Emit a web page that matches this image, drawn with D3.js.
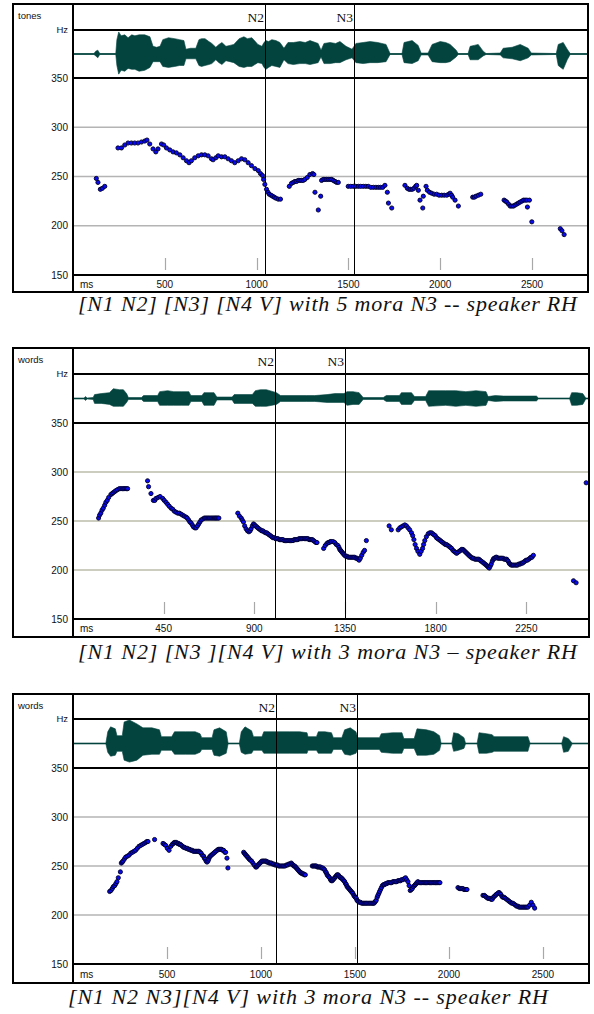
<!DOCTYPE html>
<html><head><meta charset="utf-8">
<script src="https://cdn.jsdelivr.net/npm/d3@7"></script>
<style>
html,body{margin:0;padding:0;background:#fff;}
svg{display:block;}
</style>
</head><body>
<svg id="chart" width="594" height="1014"></svg>
<script>
// ---------------- DATA ----------------
const yTicks = [350, 300, 250, 200, 150];
const gridHz = [300, 250, 200];
const boundaryLabels = ["N2", "N3"];
const tierLabels = ["tones", "words", "words"];
const captions = [
  "[N1 N2] [N3] [N4 V] with 5 mora N3 -- speaker RH",
  "[N1 N2] [N3 ][N4 V] with 3 mora N3 \u2013 speaker RH",
  "[N1 N2 N3][N4 V] with 3 mora N3 -- speaker RH"
];
const ticks1 = [500, 1000, 1500, 2000, 2500];
const ticks2 = [450, 900, 1350, 1800, 2250];
const ticks3 = [500, 1000, 1500, 2000, 2500];
const bounds1 = [1047, 1532];
const bounds2 = [1002, 1350];
const bounds3 = [1080, 1511];
const duration1 = 2805, duration2 = 2561, duration3 = 2745;

// pitch tracks [ms, Hz]
const pitch1 = [
[127,248],[136,244],[149,237],[160,238],[173,240],
[245,279],[264,279],[282,282],[300,284],[318,284],[336,284],[354,284],[373,285],[391,286],[403,287],[418,283],[436,278],[451,275],[463,278],[482,283],[494,282],[509,279],[527,277],[545,275],[563,274],[582,272],[600,269],[618,266],[632,264],[645,266],[663,269],[682,271],[700,272],[718,272],[736,271],[754,268],[763,267],[778,269],[791,271],[809,270],[827,270],[845,268],[863,266],[881,264],[900,266],[918,268],[936,267],[954,264],[972,261],[991,258],[1009,256],[1021,253],[1032,251],[1038,247],[1045,242],[1054,237],[1062,234],[1069,232],[1078,231],[1087,230],[1096,229],[1105,228],[1118,227],[1130,227],
[1178,240],[1190,243],[1200,244],[1209,245],[1218,245],[1227,246],[1236,246],[1245,246],[1254,246],[1263,247],[1276,249],[1290,252],[1305,253],[1312,252],
[1318,234],[1336,216],[1349,230],
[1354,246],[1363,247],[1372,247],[1381,247],[1390,247],[1400,247],[1409,247],[1418,246],[1427,245],[1436,244],[1445,244],
[1499,240],[1513,240],[1527,240],[1540,240],[1554,240],[1567,240],[1581,240],[1595,240],[1608,240],[1622,239],[1636,239],[1650,239],[1663,239],[1675,239],[1687,239],[1699,241],
[1712,234],[1718,223],[1736,218],
[1808,241],[1821,238],[1830,237],[1839,237],[1848,237],[1857,238],[1866,240],[1872,241],[1881,236],
[1890,226],[1905,218],[1908,230],
[1923,240],[1930,236],[1942,234],[1954,233],[1967,232],[1981,232],[1994,231],[2008,231],[2022,231],[2036,231],[2047,232],[2054,233],[2062,231],[2068,229],[2081,226],[2099,220],
[2177,229],[2186,229],[2195,230],[2208,231],[2221,232],
[2348,226],[2356,225],[2363,224],[2372,222],[2381,220],[2390,220],[2399,220],[2408,221],[2417,222],[2426,223],[2435,224],[2445,225],[2454,226],[2463,226],[2472,226],[2486,226],[2475,219],[2499,204],
[2654,197],[2663,195],[2675,191]
];
const pitch2 = [
[127,253],[132,256],[138,258],[144,261],[150,263],[157,266],[163,269],[170,271],[177,274],[188,277],[194,278],[200,279],[207,280],[213,281],[221,282],[230,283],[238,283],[246,283],[252,283],[258,283],[265,283],[271,283],
[370,291],[375,285],[387,278],[399,271],
[406,271],[412,273],[422,274],[432,275],[445,273],[453,271],[462,269],[470,267],[478,265],[487,263],[495,262],[503,260],[511,259],[520,258],[528,258],[536,257],[544,256],[552,255],[561,254],[567,253],[574,251],[580,249],[586,248],[592,246],[598,244],[605,243],[611,243],[618,245],[624,247],[630,249],[636,251],[644,252],[652,253],[659,253],[665,253],[671,253],[677,253],[684,253],[690,253],[696,253],[702,253],[708,253],[713,253],[719,253],[724,253],
[818,258],[826,255],[835,253],[840,251],[846,249],[852,245],[859,242],[866,240],[873,239],[879,240],[884,242],[890,245],[896,247],[901,246],[906,245],[912,244],[917,243],[923,242],[930,241],[936,240],[942,240],[948,239],[955,238],[961,238],[967,237],[973,236],[980,235],[986,234],[992,233],[998,233],[1005,232],[1011,232],[1017,232],[1024,231],[1030,231],[1036,231],[1042,231],[1048,230],[1055,230],[1061,230],[1067,230],[1073,230],[1080,230],[1086,230],[1092,230],[1098,231],[1104,231],[1110,231],[1116,231],[1122,232],[1129,232],[1135,232],[1141,232],[1148,232],[1154,232],[1160,232],[1166,232],[1172,231],[1177,231],[1183,231],[1188,231],[1194,230],[1200,229],[1206,228],[1211,228],
[1244,222],[1252,225],[1260,227],[1266,228],[1271,228],[1277,229],[1282,229],[1291,229],[1299,228],[1307,226],[1315,225],[1320,223],[1324,221],[1328,220],[1332,219],[1336,218],[1340,217],[1344,216],[1348,215],[1354,214],[1360,214],[1366,213],[1373,213],[1379,213],[1385,213],[1391,213],[1398,213],[1404,212],[1410,212],[1415,211],[1420,210],[1426,212],[1433,215],[1440,218],[1447,220],[1456,230],
[1569,245],[1580,241],
[1614,241],[1622,243],[1630,244],[1638,245],[1647,246],[1655,245],[1663,243],[1671,241],[1680,238],[1686,235],[1692,231],[1698,226],[1705,222],[1712,219],[1721,216],[1728,219],[1735,222],[1740,226],[1746,230],[1754,234],[1763,237],[1771,238],[1779,238],[1785,237],[1791,236],[1798,235],[1804,233],[1810,232],[1817,231],[1823,230],[1829,229],[1836,228],[1842,227],[1848,226],[1854,226],[1861,225],[1867,224],[1873,223],[1879,222],[1886,220],[1892,219],[1898,218],[1904,217],[1910,218],[1917,219],[1923,220],[1929,221],[1935,221],[1940,220],[1945,219],[1950,218],[1955,217],[1960,216],[1965,215],[1970,214],[1976,213],[1982,212],[1988,212],[1995,211],[2001,211],[2008,211],[2014,211],[2020,210],[2026,209],[2033,208],[2039,207],[2045,206],[2051,205],[2056,204],[2061,203],[2066,202],[2071,204],[2076,206],[2081,209],[2086,211],[2090,212],[2095,212],[2099,213],[2103,213],[2109,212],[2115,212],[2121,212],[2127,212],[2134,212],[2140,211],[2146,211],[2152,211],[2156,210],[2160,209],[2165,207],[2169,206],[2175,205],[2181,205],[2187,205],[2194,205],[2200,205],[2206,205],[2212,206],[2219,206],[2225,207],[2231,207],[2237,208],[2243,209],[2249,210],[2255,210],[2262,211],[2268,212],[2273,213],[2278,213],[2285,215],
[2484,189],[2497,187],
[2547,289]
];
const pitch3 = [
[195,224],[202,225],[209,227],[215,229],[222,230],[228,232],[234,234],[241,238],[252,244],[257,253],[262,254],[266,255],[273,257],[280,259],[289,260],[298,261],[307,263],[316,264],[325,265],[333,266],[342,268],[351,270],[360,271],[369,272],[378,273],[387,274],[393,275],[399,275],
[434,277],[479,273],[486,272],[493,271],[502,268],[511,266],[520,270],[528,272],[534,273],[539,274],[545,274],[550,274],[556,273],[561,273],[566,272],[571,272],[577,271],[583,270],[589,269],[594,269],[601,268],[608,268],[614,267],[621,267],[627,266],[634,266],[640,265],[647,265],[653,265],[659,265],[665,265],[670,265],[676,264],[682,263],[688,261],[695,260],[699,258],[704,257],[708,255],[713,254],[718,255],[722,257],[726,259],[730,260],[736,261],[742,262],[748,263],[754,264],[760,265],[767,266],[773,267],[780,267],[785,267],[790,267],[796,266],[801,266],[808,264],[812,264],[819,258],[824,248],
[908,264],[912,263],[916,262],[920,261],[925,260],[929,259],[934,258],[938,257],[943,256],[950,255],[957,253],[964,251],[972,249],[976,249],[980,250],[985,251],[989,252],[995,253],[1000,254],[1005,255],[1011,255],[1016,255],[1022,255],[1027,255],[1032,254],[1038,254],[1044,253],[1050,253],[1055,253],[1062,252],[1068,252],[1075,251],[1082,251],[1088,251],[1095,250],[1101,250],[1108,250],[1115,250],[1121,250],[1128,250],[1135,251],[1141,251],[1148,252],[1154,252],[1161,253],[1165,252],[1170,251],[1175,250],[1179,250],[1184,249],[1188,248],[1193,247],[1197,246],[1202,245],[1206,244],[1211,243],[1215,243],[1220,242],[1226,242],[1231,241],[1236,241],
[1273,250],[1278,250],[1284,250],[1289,250],[1294,250],[1300,249],[1305,249],[1311,249],[1316,249],[1322,248],[1328,248],[1334,247],[1339,246],[1344,244],[1348,243],[1352,241],[1356,240],[1361,239],[1365,238],[1370,236],[1374,235],[1379,235],[1383,236],[1388,237],[1392,238],[1397,239],[1401,240],[1405,241],[1410,241],[1414,240],[1418,239],[1423,238],[1427,238],[1432,237],[1436,236],[1441,235],[1445,234],[1450,232],[1454,231],[1458,229],[1463,228],[1467,227],[1472,226],[1476,225],[1480,224],[1485,223],[1489,222],[1494,220],[1498,219],[1502,218],[1507,217],[1511,215],[1516,214],[1522,213],[1529,213],[1536,212],[1543,212],[1549,212],[1556,212],[1562,212],[1569,212],[1576,212],[1583,212],[1590,212],[1596,212],[1601,212],[1605,213],[1609,214],[1613,215],[1618,218],[1622,220],[1627,222],[1631,224],[1636,226],[1641,228],[1646,230],[1652,231],[1657,231],[1663,232],[1669,232],[1675,233],[1681,233],[1688,233],[1695,233],[1702,234],[1708,234],[1715,234],[1722,234],[1729,235],[1735,235],[1742,235],[1748,236],[1755,236],[1762,237],[1769,238],[1775,236],[1782,234],[1788,230],[1794,225],[1800,226],[1805,227],[1811,229],[1817,230],[1821,231],[1826,232],[1830,233],[1835,234],[1841,233],[1848,233],[1855,233],[1862,233],[1868,233],[1875,233],[1881,233],[1888,233],[1895,233],[1901,233],[1908,233],[1915,233],[1921,233],[1928,233],[1935,233],[1941,233],[1947,233],[1952,233],
[2048,228],[2055,227],[2061,227],[2068,227],[2074,227],[2080,226],[2085,226],[2091,226],[2096,226],
[2181,220],[2188,220],[2194,219],[2200,218],[2207,217],[2212,217],[2218,217],[2224,216],[2230,216],[2236,218],[2241,219],[2247,220],[2252,221],[2259,222],[2266,223],[2271,222],[2276,221],[2282,219],[2287,218],[2294,218],[2300,217],[2307,216],[2314,215],[2320,214],[2327,213],[2334,212],[2340,212],[2347,211],[2354,210],[2360,209],[2367,209],[2373,208],[2380,208],[2387,208],[2394,208],[2400,208],[2407,208],[2413,208],[2420,208],[2429,210],[2438,213],[2447,210],[2456,207]
];

// waveform envelope keyframes [ms, amplitude above, amplitude below]
const wave1 = [
[0,0.5,0.5],[114,0.5,0.5],[124,3,2],[135,4,4],[146,0.5,0.5],[233,0.5,0.5],[239,15,12],[249,23,21],[262,19,17],[282,20,18],[300,17,15],[320,20,16],[337,19,16],[360,20,18],[391,20,17],[419,18,14],[436,8,8],[455,7,8],[474,8,8],[489,15,13],[520,17,14],[554,16,13],[580,15,12],[604,14,12],[615,5,5],[640,6,5],[669,6,5],[686,15,12],[700,16,13],[719,16,12],[740,13,11],[756,11,10],[778,7,6],[795,10,9],[811,12,11],[833,8,7],[855,9,8],[876,10,9],[905,16,13],[931,18,14],[950,16,13],[974,17,13],[1007,10,9],[1029,8,10],[1040,12,14],[1051,14,16],[1065,13,14],[1083,15,12],[1105,14,13],[1127,12,14],[1149,6,6],[1171,12,10],[1200,12,11],[1236,13,10],[1265,12,10],[1291,14,11],[1335,11,9],[1351,4,3],[1367,11,10],[1400,12,10],[1430,11,9],[1454,13,9],[1487,8,6],[1520,5,4],[1541,11,9],[1580,12,10],[1618,13,9],[1660,12,9],[1705,10,8],[1727,0.5,0.5],[1792,0.5,0.5],[1803,12,9],[1847,14,10],[1880,9,7],[1896,1,1],[1934,1,1],[1956,10,8],[2000,13,9],[2030,12,9],[2054,10,8],[2087,4,3],[2098,0.5,0.5],[2152,0.5,0.5],[2163,8,6],[2185,9,6],[2207,10,6],[2234,3,2],[2250,0.5,0.5],[2327,1,1],[2343,6,4],[2392,7,5],[2436,10,7],[2479,6,4],[2496,1,1],[2632,0.5,0.5],[2643,10,12],[2656,11,14],[2670,12,16],[2692,5,6],[2708,0.5,0.5],[2805,0.5,0.5]
];
const wave2 = [
[0,0.5,0.5],[55,0.5,0.5],[62,2,2],[70,0.5,0.5],[100,1,1],[107,4,5],[140,5,5],[181,6,6],[200,10,8],[230,9,8],[250,9,8],[266,5,4],[275,1,1],[340,1,1],[350,3,3],[420,3,3],[430,7,7],[470,8,7],[500,7,7],[540,7,7],[575,7,7],[585,3,3],[640,3,3],[650,6,7],[700,6,7],[714,1.5,1.5],[790,1.5,1.5],[800,4,5],[890,4,5],[905,8,8],[930,9,8],[960,9,8],[1010,6,6],[1030,3,3],[1160,3,3],[1200,3,3],[1261,4,4],[1300,5,4],[1345,5,4],[1360,7,7],[1390,7,6],[1420,6,6],[1440,1,1],[1540,1,1],[1555,3,3],[1620,3,3],[1630,6,6],[1680,6,6],[1695,2,2],[1750,2,2],[1765,8,8],[1850,8,7],[1900,8,8],[1950,7,7],[2000,8,8],[2050,7,7],[2060,2,2],[2096,3,3],[2136,2.5,2.5],[2300,2.5,2.5],[2310,0.5,0.5],[2465,0.5,0.5],[2475,6,7],[2500,6,7],[2530,5,6],[2545,0.5,0.5],[2561,0.5,0.5]
];
const wave3 = [
[0,0.5,0.5],[175,0.5,0.5],[185,12,9],[200,17,13],[225,15,12],[234,8,8],[262,8,8],[272,22,17],[300,24,19],[320,22,18],[340,20,17],[372,16,12],[420,16,11],[460,14,11],[470,7,7],[525,7,7],[540,12,11],[600,12,11],[650,12,11],[676,10,9],[685,6,6],[740,6,6],[750,14,12],[780,16,13],[815,12,10],[825,0.5,0.5],[885,0.5,0.5],[895,12,9],[915,17,11],[950,13,10],[960,7,7],[1005,7,7],[1015,12,10],[1080,12,10],[1150,12,10],[1207,12,10],[1245,11,10],[1250,7,7],[1295,7,7],[1305,12,10],[1340,12,10],[1375,11,10],[1385,6,6],[1430,6,6],[1445,14,11],[1475,16,12],[1505,12,10],[1515,6,6],[1630,6,6],[1640,10,9],[1700,11,10],[1750,11,10],[1760,5,5],[1815,5,5],[1830,15,12],[1880,14,12],[1920,12,11],[1950,8,7],[1958,0.5,0.5],[2015,0.5,0.5],[2025,11,8],[2050,10,7],[2080,6,5],[2088,0.5,0.5],[2150,0.5,0.5],[2160,11,10],[2200,10,10],[2230,9,9],[2240,7,8],[2330,7,8],[2420,7,8],[2431,0.5,0.5],[2600,0.5,0.5],[2610,7,9],[2635,5,8],[2655,0.5,0.5],[2745,0.5,0.5]
];

// ---------------- LAYOUT ----------------
const panels = [
  {top:4,   rowBot:30,  waveBot:78,  pitchBot:275, axisBot:292, right:588, dur:duration1, ticks:ticks1, bounds:bounds1, pitch:pitch1, wave:wave1, tier:tierLabels[0], caption:captions[0], capX:78, capY:311, capLen:499, grid:"#b4b4b4"},
  {top:348, rowBot:374, waveBot:423, pitchBot:619, axisBot:637, right:589, dur:duration2, ticks:ticks2, bounds:bounds2, pitch:pitch2, wave:wave2, tier:tierLabels[1], caption:captions[1], capX:78, capY:659, capLen:499, grid:"#bcbcaa"},
  {top:694, rowBot:719, waveBot:768, pitchBot:964, axisBot:983, right:589, dur:duration3, ticks:ticks3, bounds:bounds3, pitch:pitch3, wave:wave3, tier:tierLabels[2], caption:captions[2], capX:68, capY:1004, capLen:480, grid:"#b4b4b4"}
];
const LEFT = 13, COL = 73;
const svg = d3.select("#chart");
const sans = "'Liberation Sans', Arial, sans-serif";
const serif = "'Liberation Serif', 'Times New Roman', Times, serif";

panels.forEach((p, i) => {
  const g = svg.append("g");
  const x = d3.scaleLinear().domain([0, p.dur]).range([COL, p.right]);
  const y = d3.scaleLinear().domain([150, 350]).range([p.pitchBot, p.waveBot]);
  const cy = (p.rowBot + p.waveBot) / 2;
  const half = (p.waveBot - p.rowBot) / 2 - 1;
  const amp = d3.scaleLinear().domain([0, 24]).range([0, half]);

  g.append("rect").attr("x", LEFT).attr("y", p.top).attr("width", p.right - LEFT).attr("height", p.axisBot - p.top).attr("fill", "#fff");

  // gridlines
  g.selectAll(".grid").data(gridHz).join("line")
    .attr("x1", COL).attr("x2", p.right)
    .attr("y1", d => y(d)).attr("y2", d => y(d))
    .attr("stroke", p.grid).attr("stroke-width", 1.5);

  // tick marks above axis bar
  g.selectAll(".tk").data(p.ticks).join("line")
    .attr("x1", d => Math.round(x(d)) + 0.5).attr("x2", d => Math.round(x(d)) + 0.5)
    .attr("y1", p.pitchBot - 17).attr("y2", p.pitchBot - 5)
    .attr("stroke", "#a8a8a8").attr("stroke-width", 1.2);

  // waveform
  const clipId = "clip" + i;
  g.append("clipPath").attr("id", clipId).append("rect")
    .attr("x", COL).attr("y", p.rowBot).attr("width", p.right - COL).attr("height", p.waveBot - p.rowBot);
  const wg = g.append("g").attr("clip-path", `url(#${clipId})`);
  wg.append("line").attr("x1", COL).attr("x2", p.right).attr("y1", cy).attr("y2", cy)
    .attr("stroke", "#0b4a45").attr("stroke-width", 1);
  const area = d3.area()
    .x(d => x(d[0]))
    .y0(d => cy + amp(d[2]))
    .y1(d => cy - amp(d[1]))
    .curve(d3.curveLinear);
  wg.append("path").datum(p.wave).attr("d", area).attr("fill", "#04443f").attr("stroke", "#04443f").attr("stroke-width", 0.6);

  // boundary lines
  g.selectAll(".bd").data(p.bounds).join("line")
    .attr("x1", d => Math.round(x(d)) + 0.5).attr("x2", d => Math.round(x(d)) + 0.5)
    .attr("y1", p.top).attr("y2", p.pitchBot)
    .attr("stroke", "#000").attr("stroke-width", 1);
  g.selectAll(".bl").data(p.bounds).join("text")
    .attr("x", d => Math.round(x(d)) - 1).attr("y", p.top + 18)
    .attr("text-anchor", "end").attr("font-family", serif).attr("font-size", 13.5)
    .attr("fill", "#111")
    .text((d, j) => boundaryLabels[j]);

  // pitch points
  g.selectAll(".pt").data(p.pitch).join("circle")
    .attr("cx", d => x(d[0])).attr("cy", d => y(d[1])).attr("r", 2.1)
    .attr("fill", "#0a0af0").attr("stroke", "#000028").attr("stroke-width", 0.9);

  // frame lines
  const frame = g.append("g").attr("stroke", "#000").attr("stroke-width", 2).attr("fill", "none");
  frame.append("rect").attr("x", LEFT).attr("y", p.top).attr("width", p.right - LEFT).attr("height", p.axisBot - p.top);
  frame.append("line").attr("x1", COL).attr("x2", COL).attr("y1", p.top).attr("y2", p.axisBot);
  [p.rowBot, p.waveBot, p.pitchBot].forEach(yy => {
    frame.append("line").attr("x1", COL).attr("x2", p.right).attr("y1", yy).attr("y2", yy);
  });

  // left labels
  g.append("text").attr("x", LEFT + 5).attr("y", p.top + 15)
    .attr("font-family", sans).attr("font-size", 9.5).attr("fill", "#111").text(p.tier);
  g.append("text").attr("x", COL - 5).attr("y", p.rowBot + 3)
    .attr("text-anchor", "end").attr("font-family", sans).attr("font-size", 9.5).attr("fill", "#111").text("Hz");
  g.selectAll(".yl").data(yTicks).join("text")
    .attr("x", COL - 5).attr("y", d => y(d) + 3.5)
    .attr("text-anchor", "end").attr("font-family", sans).attr("font-size", 10).attr("fill", "#111")
    .text(d => d);

  // axis bar labels
  const axisY = (p.pitchBot + p.axisBot) / 2 + 4;
  g.append("text").attr("x", COL + 7).attr("y", axisY)
    .attr("font-family", sans).attr("font-size", 10).attr("fill", "#111").text("ms");
  g.selectAll(".xl").data(p.ticks).join("text")
    .attr("x", d => x(d)).attr("y", axisY)
    .attr("text-anchor", "middle").attr("font-family", sans).attr("font-size", 10).attr("fill", "#111")
    .text(d => d);

  // caption
  svg.append("text").attr("x", p.capX).attr("y", p.capY)
    .attr("font-family", serif).attr("font-style", "italic").attr("font-size", 22)
    .attr("textLength", p.capLen).attr("lengthAdjust", "spacing")
    .attr("fill", "#111").text(p.caption);
});
</script>
</body></html>
